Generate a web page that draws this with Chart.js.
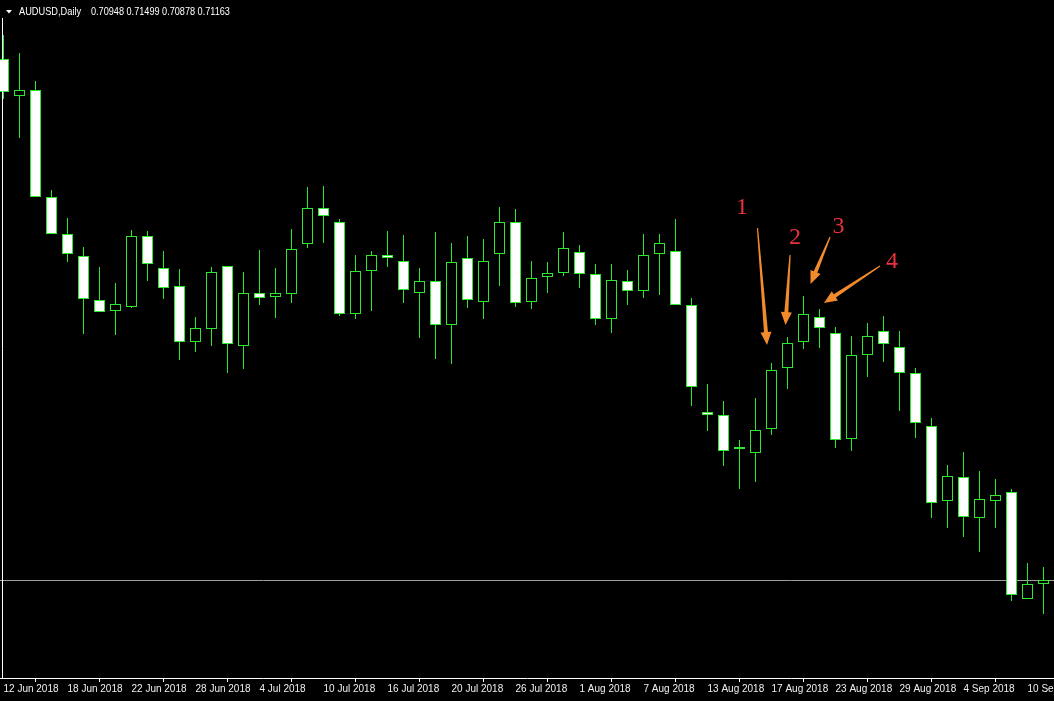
<!DOCTYPE html>
<html>
<head>
<meta charset="utf-8">
<script src="https://cdn.jsdelivr.net/npm/chart.js@4.4.1/dist/chart.umd.min.js"></script>
<style>
html,body{margin:0;padding:0;background:#000;overflow:hidden}
#wrap{width:1054px;height:701px;position:relative}
canvas{display:block}
</style>
</head>
<body>
<div id="wrap"><canvas id="c" width="1054" height="701"></canvas></div>
<script>
// ---------- data ----------
const symbol = 'AUDUSD,Daily';
const headerValues = ['0.70948', '0.71499', '0.70878', '0.71163'];

const dates = [
  '12 Jun 2018','13 Jun 2018','14 Jun 2018','15 Jun 2018','18 Jun 2018','19 Jun 2018','20 Jun 2018','21 Jun 2018',
  '22 Jun 2018','25 Jun 2018','26 Jun 2018','27 Jun 2018','28 Jun 2018','29 Jun 2018','2 Jul 2018','3 Jul 2018',
  '4 Jul 2018','5 Jul 2018','6 Jul 2018','9 Jul 2018','10 Jul 2018','11 Jul 2018','12 Jul 2018','13 Jul 2018',
  '16 Jul 2018','17 Jul 2018','18 Jul 2018','19 Jul 2018','20 Jul 2018','23 Jul 2018','24 Jul 2018','25 Jul 2018',
  '26 Jul 2018','27 Jul 2018','30 Jul 2018','31 Jul 2018','1 Aug 2018','2 Aug 2018','3 Aug 2018','6 Aug 2018',
  '7 Aug 2018','8 Aug 2018','9 Aug 2018','10 Aug 2018','13 Aug 2018','14 Aug 2018','15 Aug 2018','16 Aug 2018',
  '17 Aug 2018','20 Aug 2018','21 Aug 2018','22 Aug 2018','23 Aug 2018','24 Aug 2018','27 Aug 2018','28 Aug 2018',
  '29 Aug 2018','30 Aug 2018','31 Aug 2018','3 Sep 2018','4 Sep 2018','5 Sep 2018','6 Sep 2018','7 Sep 2018',
  '10 Sep 2018','11 Sep 2018'
];

const open = [
  0.7637,0.7600,0.7606,0.7499,0.7462,0.7440,0.7396,0.7385,0.7389,0.7460,0.7428,0.7410,0.7354,0.7367,0.7430,0.7350,
  0.7403,0.7399,0.7402,0.7452,0.7488,0.7474,0.7382,0.7425,0.7441,0.7435,0.7403,0.7415,0.7371,0.7438,0.7394,0.7442,
  0.7474,0.7394,0.7419,0.7423,0.7444,0.7422,0.7377,0.7415,0.7405,0.7442,0.7445,0.7391,0.7284,0.7281,0.7247,0.7243,
  0.7267,0.7328,0.7354,0.7379,0.7363,0.7257,0.7341,0.7365,0.7349,0.7323,0.7270,0.7195,0.7219,0.7178,0.7195,0.7204,
  0.7097,0.7112
];
const high = [
  0.7661,0.7643,0.7615,0.7506,0.7478,0.7449,0.7429,0.7413,0.7466,0.7465,0.7445,0.7427,0.7379,0.7429,0.7430,0.7424,
  0.7446,0.7428,0.7467,0.7509,0.7510,0.7477,0.7441,0.7445,0.7465,0.7461,0.7428,0.7464,0.7453,0.7460,0.7457,0.7489,
  0.7487,0.7435,0.7434,0.7464,0.7451,0.7432,0.7432,0.7426,0.7462,0.7462,0.7477,0.7398,0.7312,0.7295,0.7256,0.7298,
  0.7333,0.7359,0.7400,0.7387,0.7369,0.7360,0.7373,0.7380,0.7365,0.7328,0.7278,0.7231,0.7244,0.7225,0.7217,0.7207,
  0.7133,0.7129
];
const low = [
  0.7597,0.7558,0.7499,0.7462,0.7434,0.7362,0.7384,0.7361,0.7388,0.7415,0.7397,0.7336,0.7344,0.7350,0.7323,0.7327,
  0.7391,0.7378,0.7393,0.7448,0.7453,0.7380,0.7377,0.7385,0.7429,0.7393,0.7358,0.7337,0.7332,0.7388,0.7377,0.7410,
  0.7389,0.7387,0.7403,0.7420,0.7408,0.7371,0.7363,0.7391,0.7398,0.7401,0.7391,0.7290,0.7265,0.7230,0.7207,0.7214,
  0.7261,0.7307,0.7347,0.7348,0.7248,0.7245,0.7319,0.7334,0.7285,0.7258,0.7178,0.7168,0.7159,0.7144,0.7168,0.7095,
  0.7097,0.7082
];
const close = [
  0.7604,0.7606,0.7499,0.7462,0.7442,0.7397,0.7384,0.7392,0.7460,0.7432,0.7408,0.7354,0.7368,0.7424,0.7352,0.7403,
  0.7398,0.7403,0.7447,0.7488,0.7480,0.7382,0.7425,0.7441,0.7438,0.7406,0.7415,0.7371,0.7434,0.7396,0.7435,0.7474,
  0.7393,0.7418,0.7423,0.7448,0.7422,0.7377,0.7416,0.7405,0.7441,0.7453,0.7391,0.7309,0.7281,0.7245,0.7247,0.7266,
  0.7326,0.7353,0.7382,0.7368,0.7256,0.7341,0.7360,0.7352,0.7323,0.7273,0.7193,0.7220,0.7179,0.7197,0.7201,0.7101,
  0.7112,0.7116
];

// indices of labelled dates on the time axis
const tickIndex = [0,4,8,12,16,20,24,28,32,36,40,44,48,52,56,60,64];

// hand-drawn annotations (bar index, price)
const noteText   = ['1','2','3','4'];
const noteX      = [46.16, 49.47, 52.19, 55.53];
const noteY      = [0.7488, 0.74585, 0.7469, 0.7434];
const arrowFromX = [47.125, 49.16, 51.66, 54.78];
const arrowFromY = [0.7468, 0.7441, 0.7459, 0.7430];
const arrowToX   = [47.72, 48.875, 50.44, 51.28];
const arrowToY   = [0.7351, 0.7371, 0.7412, 0.7393];

// ---------- styles ----------
const GREEN = '#2ee82e';
const BEAR_FILL = '#ffffff';
const BULL_FILL = '#000000';

const bodyFill = open.map((o, i) => close[i] < o ? BEAR_FILL : BULL_FILL);

const bgPlugin = {
  id: 'bg',
  beforeDraw(chart) {
    const c = chart.ctx;
    c.save();
    c.fillStyle = '#000';
    c.fillRect(0, 0, chart.width, chart.height);
    c.restore();
  }
};

const bidLinePlugin = {
  id: 'bidLine',
  beforeDatasetsDraw(chart) {
    const c = chart.ctx, a = chart.chartArea;
    const py = Math.round(chart.scales.y.getPixelForValue(close[close.length - 1])) + 0.5;
    c.save();
    c.strokeStyle = '#a0a0a0';
    c.lineWidth = 1;
    c.beginPath();
    c.moveTo(a.left, py);
    c.lineTo(a.right, py);
    c.stroke();
    c.restore();
  }
};

function drawArrow(c, tx, ty, px, py) {
  const dx = px - tx, dy = py - ty;
  const len = Math.hypot(dx, dy);
  const ux = dx / len, uy = dy / len;
  const nx = -uy, ny = ux;
  const headLen = 13, headHalf = 5.5, tailHalf = 0.6, baseHalf = 2;
  const bx = px - ux * headLen, by = py - uy * headLen;
  c.beginPath();
  c.moveTo(tx + nx * tailHalf, ty + ny * tailHalf);
  c.lineTo(bx + nx * baseHalf, by + ny * baseHalf);
  c.lineTo(bx + nx * headHalf, by + ny * headHalf);
  c.lineTo(px, py);
  c.lineTo(bx - nx * headHalf, by - ny * headHalf);
  c.lineTo(bx - nx * baseHalf, by - ny * baseHalf);
  c.lineTo(tx - nx * tailHalf, ty - ny * tailHalf);
  c.closePath();
  c.fill();
}

const overlayPlugin = {
  id: 'overlay',
  afterDraw(chart) {
    const c = chart.ctx, a = chart.chartArea;
    const xs = chart.scales.x, ys = chart.scales.y;
    c.save();
    // left frame line
    c.strokeStyle = '#ffffff';
    c.lineWidth = 1;
    c.beginPath();
    c.moveTo(2.5, 18);
    c.lineTo(2.5, a.bottom + 0.5);
    c.stroke();

    // header
    c.fillStyle = '#ffffff';
    c.beginPath();
    c.moveTo(6, 10); c.lineTo(12, 10); c.lineTo(9, 13.5); c.closePath();
    c.fill();
    c.font = '11px "Liberation Sans", Arial, sans-serif';
    c.textBaseline = 'middle';
    c.textAlign = 'left';
    c.save();
    c.translate(19, 12);
    c.scale(0.84, 1);
    c.fillText(symbol, 0, 0);
    c.restore();
    c.save();
    c.translate(91, 12);
    c.scale(0.83, 1);
    c.fillText(headerValues.join(' '), 0, 0);
    c.restore();

    // arrows
    c.fillStyle = '#f18b2c';
    for (let i = 0; i < noteText.length; i++) {
      drawArrow(c,
        xs.getPixelForValue(arrowFromX[i]), ys.getPixelForValue(arrowFromY[i]),
        xs.getPixelForValue(arrowToX[i]), ys.getPixelForValue(arrowToY[i]));
    }
    // numbers
    c.fillStyle = '#e8323e';
    c.font = '24px "Liberation Serif", "Times New Roman", serif';
    c.textAlign = 'center';
    c.textBaseline = 'middle';
    for (let i = 0; i < noteText.length; i++) {
      c.fillText(noteText[i], xs.getPixelForValue(noteX[i]), ys.getPixelForValue(noteY[i]));
    }
    c.restore();
  }
};

new Chart(document.getElementById('c'), {
  type: 'bar',
  data: {
    datasets: [
      {
        label: 'body',
        data: dates.map((d, i) => ({ x: i, y: [open[i], close[i]] })),
        backgroundColor: bodyFill,
        borderColor: GREEN,
        borderWidth: 1,
        borderSkipped: false,
        barThickness: 11,
        minBarLength: 2,
        inflateAmount: 0,
        grouped: false,
        order: 0
      },
      {
        label: 'wick',
        data: dates.map((d, i) => ({ x: i, y: [low[i], high[i]] })),
        backgroundColor: GREEN,
        borderWidth: 0,
        barThickness: 1,
        inflateAmount: 0,
        grouped: false,
        order: 1
      }
    ]
  },
  options: {
    responsive: false,
    animation: false,
    events: [],
    layout: { padding: 0 },
    plugins: { legend: { display: false }, tooltip: { enabled: false }, title: { display: false } },
    scales: {
      x: {
        type: 'linear',
        min: -0.21875,
        max: 65.65625,
        offset: false,
        position: 'bottom',
        grid: { display: true, drawOnChartArea: false, drawTicks: true, tickLength: 4, color: '#ffffff', tickColor: '#ffffff' },
        border: { display: true, color: '#ffffff', width: 1 },
        ticks: {
          autoSkip: false,
          maxRotation: 0,
          minRotation: 0,
          align: 'start',
          padding: 1,
          color: '#f0f0f0',
          font: { family: '"Liberation Sans", Arial, sans-serif', size: 10 },
          callback: (v) => dates[v]
        },
        afterBuildTicks: (s) => { s.ticks = tickIndex.map(v => ({ value: v })); },
        afterFit: (s) => { s.height = 23; s.paddingLeft = 0; s.paddingRight = 0; }
      },
      y: { display: false, min: 0.7018, max: 0.7696 }
    }
  },
  plugins: [bgPlugin, bidLinePlugin, overlayPlugin]
});
</script>
</body>
</html>
